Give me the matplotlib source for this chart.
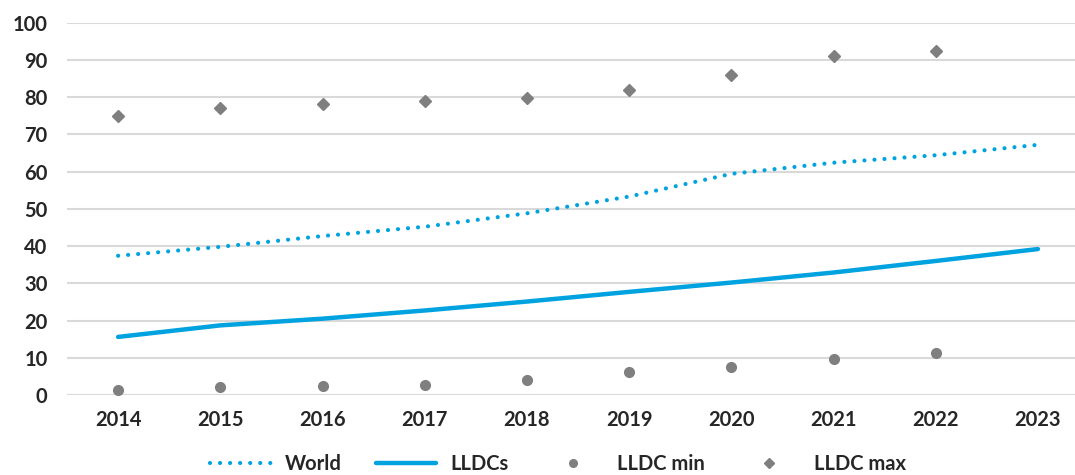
import matplotlib
matplotlib.use("Agg")
import matplotlib.pyplot as plt
from matplotlib.lines import Line2D

plt.rcParams['font.family'] = ['Lato', 'DejaVu Sans']

years = ['2014', '2015', '2016', '2017', '2018', '2019', '2020', '2021', '2022', '2023']
world = [37.4, 39.8, 42.7, 45.2, 48.8, 53.3, 59.4, 62.4, 64.4, 67.2]
lldcs = [15.6, 18.7, 20.5, 22.7, 25.1, 27.7, 30.2, 32.9, 36.0, 39.2]
lldc_min = [1.25, 2.1, 2.3, 2.7, 4.0, 6.1, 7.4, 9.7, 11.4]
lldc_max = [75.0, 77.0, 78.2, 79.0, 79.8, 82.0, 86.0, 91.1, 92.4]
y_ticks = [0, 10, 20, 30, 40, 50, 60, 70, 80, 90, 100]

BLUE = '#00A3E0'
GREY = '#7F7F7F'
TEXT = '#262626'
GRID = '#D9D9D9'
FS = 14.5

W, H = 1075, 475
fig = plt.figure(figsize=(W / 100, H / 100), dpi=100)
ax = fig.add_axes([67 / W, (H - 395) / H, (1089 - 67) / W, (395 - 22.7) / H])

x = list(range(len(years)))
ax.plot(x, world, color=BLUE, lw=3, linestyle=(0, (0.01, 2.4)),
        dash_capstyle='round', zorder=3)
ax.plot(x, lldcs, color=BLUE, lw=3.2, solid_capstyle='round', zorder=3)
ax.plot(x[:len(lldc_min)], lldc_min, linestyle='none', marker='o',
        markersize=7, color=GREY, zorder=4)
ax.plot(x[:len(lldc_max)], lldc_max, linestyle='none', marker='D',
        markersize=6.5, color=GREY, zorder=4)

ax.set_xlim(-0.5, len(years) - 0.5)
ax.set_ylim(0, 100)
ax.set_yticks(y_ticks)
ax.set_xticks(x)
ax.set_xticklabels(years)
ax.yaxis.grid(True, color=GRID, lw=1.5)
ax.set_axisbelow(True)
for s in ax.spines.values():
    s.set_visible(False)
ax.tick_params(axis='both', length=0, colors=TEXT, labelsize=FS)
ax.tick_params(axis='x', pad=11)
ax.tick_params(axis='y', pad=14)
for lab in ax.get_xticklabels() + ax.get_yticklabels():
    lab.set_fontweight('bold')
    lab.set_color(TEXT)

handles = [
    Line2D([], [], color=BLUE, lw=3, linestyle=(0, (0.01, 2.4)), dash_capstyle='round'),
    Line2D([], [], color=BLUE, lw=3.2, solid_capstyle='round'),
    Line2D([], [], linestyle='none', marker='o', markersize=5.5, color=GREY),
    Line2D([], [], linestyle='none', marker='D', markersize=5, color=GREY),
]
labels = ['World', 'LLDCs', 'LLDC min', 'LLDC max']
leg = fig.legend(handles, labels, loc='center', bbox_to_anchor=(0.519, 0.024),
                 ncol=4, frameon=False, handlelength=3.0, columnspacing=1.7,
                 handletextpad=0.7, borderpad=0.0,
                 prop={'weight': 'bold', 'size': FS})
for t in leg.get_texts():
    t.set_color(TEXT)

fig.savefig('out.png', dpi=100)
